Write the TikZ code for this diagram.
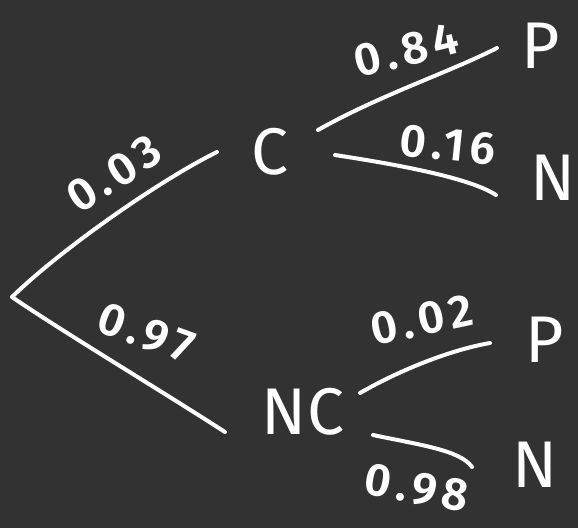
\documentclass[tikz,border=0pt]{standalone}
\usepackage{fontspec}
\setmainfont{Fira Sans}
\newfontfamily\labfont{Fira Sans}[UprightFont={* SemiBold},LetterSpace=12]
\definecolor{bg}{RGB}{50,50,50}
\tikzset{
  br/.style={draw=white,line width=4pt,line cap=round},
  lab/.style={text=white,font=\fontsize{46}{46}\selectfont\labfont,inner sep=0pt},
  lbl/.style={text=white,font=\fontsize{66}{66}\selectfont,inner sep=0pt}
}
\begin{document}
\begin{tikzpicture}[x=1pt,y=-1pt]
\fill[bg] (0,0) rectangle (578,528);
\useasboundingbox (0,0) rectangle (578,528);
% nodes
\coordinate (root) at (12,297);
\node[lbl] (C) at (270,152) {C};
\node[lbl] (NC) at (303,412) {NC};
\node[lbl] (P1) at (541,46) {P};
\node[lbl] (N1) at (553,178) {N};
\node[lbl] (P2) at (545,340) {P};
\node[lbl] (N2) at (535,465) {N};
% branch endpoints
\coordinate (cin) at (217,152);
\coordinate (ncin) at (225,432);
\coordinate (cp) at (318,130);
\coordinate (cpe) at (497,48);
\coordinate (cn) at (335,155);
\coordinate (cne) at (496,195);
\coordinate (ncp) at (360,393);
\coordinate (ncpe) at (490,343);
\coordinate (ncn) at (373,435);
\coordinate (ncne) at (472,467);
% branches
\draw[br] (root) .. controls (60,250) and (160,180) .. (cin);
\draw[br] (root) .. controls (60,330) and (160,390) .. (ncin);
\draw[br] (cp) .. controls (380,95) and (450,72) .. (cpe);
\draw[br] (cn) .. controls (400,165) and (470,178) .. (cne);
\draw[br] (ncp) .. controls (400,370) and (450,350) .. (ncpe);
\draw[br] (ncn) .. controls (420,445) and (460,450) .. (ncne);
% labels
\node[lab,rotate=33] (l1) at (114,174) {0.03};
\node[lab,rotate=-20] (l2) at (146,333) {0.97};
\node[lab,rotate=14] (l3) at (406,50) {0.84};
\node[lab,rotate=-6] (l4) at (448,145) {0.16};
\node[lab,rotate=12] (l5) at (422,320) {0.02};
\node[lab,rotate=-10] (l6) at (417,488) {0.98};
\end{tikzpicture}
\end{document}
